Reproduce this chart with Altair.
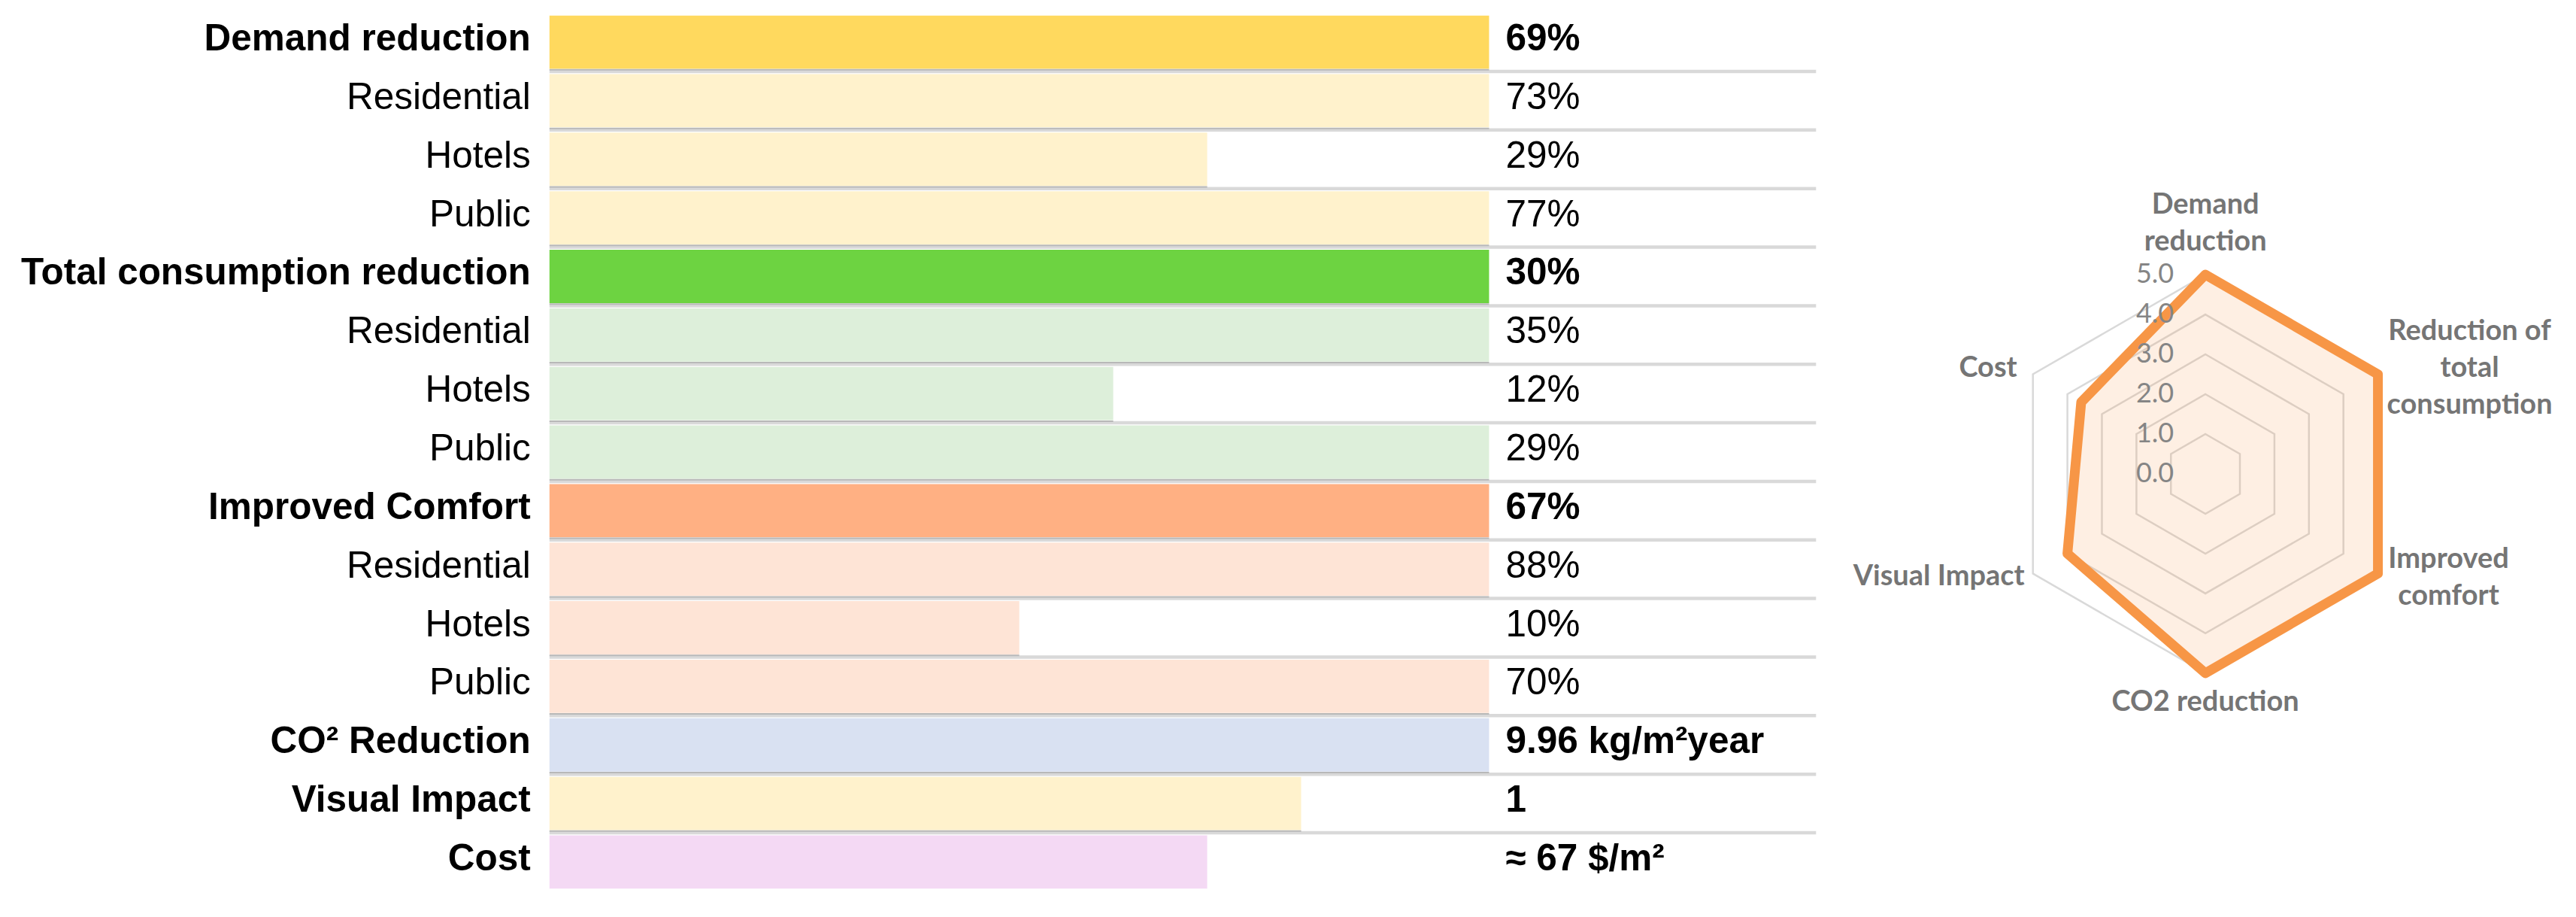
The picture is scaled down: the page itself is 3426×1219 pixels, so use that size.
import altair as alt
import pandas as pd

# ---------------- data ----------------
row_labels = ["Demand reduction", "Residential", "Hotels", "Public",
              "Total consumption reduction", "Residential", "Hotels", "Public",
              "Improved Comfort", "Residential", "Hotels", "Public",
              "CO² Reduction", "Visual Impact", "Cost"]
row_groups = ["demand", "demand_sub", "demand_sub", "demand_sub",
              "consumption", "consumption_sub", "consumption_sub", "consumption_sub",
              "comfort", "comfort_sub", "comfort_sub", "comfort_sub",
              "co2", "visual", "cost"]
row_scores = [5, 5, 3.5, 5, 5, 5, 3, 5, 5, 5, 2.5, 5, 5, 4, 3.5]
row_values = ["69%", "73%", "29%", "77%", "30%", "35%", "12%", "29%",
              "67%", "88%", "10%", "70%", "9.96 kg/m²year", "1", "≈ 67 $/m²"]
row_is_header = [True, False, False, False, True, False, False, False,
                 True, False, False, False, True, True, True]

radar_axes = ["Demand\nreduction", "Reduction of\ntotal\nconsumption", "Improved\ncomfort",
              "CO2 reduction", "Visual Impact", "Cost"]
radar_values = [5.0, 5.0, 5.0, 5.0, 4.0, 3.6]
ring_levels = [1, 2, 3, 4, 5]
tick_levels = [0, 1, 2, 3, 4, 5]

# ---------------- styles / layout ----------------
group_domain = ["demand", "demand_sub", "consumption", "consumption_sub",
                "comfort", "comfort_sub", "co2", "visual", "cost"]
group_range = ["#FFD95E", "#FFF2CC", "#6DD341", "#DDEFDA",
               "#FFB083", "#FEE4D6", "#D9E1F2", "#FFF2CC", "#F4D9F4"]

LABEL_FONT = "Liberation Sans"
FS = 49.5
TEXT_DY = -4
ROW_H = 77.9
N = len(row_labels)
PANEL_H = round(ROW_H * N)
SCORE_MAX = 5
PX_PER_UNIT = 250
PANEL_W = 1685
X_MAX = PANEL_W / PX_PER_UNIT
LABEL_W = 680
GAP = 22
BAR_GAP = 0.045
SHADOW_POS = 0.028
TOP = 17
BAR_LEFT = 728

rows = pd.DataFrame({
    "idx": list(range(N)),
    "label": row_labels,
    "group": row_groups,
    "score": row_scores,
    "value": row_values,
    "header": row_is_header,
})

y_scale = alt.Scale(domain=[N, 0], nice=False, zero=False)

# ---- label column ----
lab_base = alt.Chart(rows).transform_calculate(yc="datum.idx + 0.5")


def label_layer(flt, weight):
    return lab_base.transform_filter(flt).mark_text(
        align="right", baseline="middle", dy=TEXT_DY, font=LABEL_FONT, fontSize=FS,
        fontWeight=weight, color="#000000"
    ).encode(
        x=alt.datum(1),
        y=alt.Y("yc:Q", scale=y_scale, axis=None),
        text="label:N",
    )


label_chart = alt.layer(label_layer("datum.header", "bold"),
                        label_layer("!datum.header", "normal")).encode(
    x=alt.X(scale=alt.Scale(domain=[0, 1], nice=False), axis=None)
).properties(width=LABEL_W, height=PANEL_H)

# ---- bars ----
x_scale = alt.Scale(domain=[0, X_MAX], nice=False, zero=True)
base = alt.Chart(rows).transform_calculate(
    y0=f"datum.idx + {BAR_GAP}", y1=f"datum.idx + 1 - {BAR_GAP}",
    yb="datum.idx + 1", yc="datum.idx + 0.5", x0="0",
    ys=f"datum.idx + 1 - {SHADOW_POS}",
)

bar_layer = base.mark_rect().encode(
    x=alt.X("x0:Q", scale=x_scale, axis=None),
    x2="score:Q",
    y=alt.Y("y0:Q", scale=y_scale, axis=None),
    y2="y1:Q",
    color=alt.Color("group:N", scale=alt.Scale(domain=group_domain, range=group_range), legend=None),
)

rule_layer = base.transform_filter(f"datum.idx < {N - 1}").mark_rule(
    color="#D9D9D9", strokeWidth=4.5
).encode(
    y=alt.Y("yb:Q", scale=y_scale, axis=None),
    x=alt.datum(0),
    x2=alt.datum(X_MAX),
)

shadow_layer = base.transform_filter(f"datum.idx < {N - 1}").mark_rule(
    color="#B8B8B8", strokeWidth=2
).encode(
    y=alt.Y("ys:Q", scale=y_scale, axis=None),
    x="x0:Q",
    x2="score:Q",
)


def value_layer(flt, weight):
    return base.transform_filter(flt).mark_text(
        align="left", baseline="middle", dx=GAP, dy=TEXT_DY, font=LABEL_FONT, fontSize=FS,
        fontWeight=weight, color="#000000"
    ).encode(y=alt.Y("yc:Q", scale=y_scale, axis=None), x=alt.datum(SCORE_MAX), text="value:N")


bar_chart = alt.layer(bar_layer, rule_layer, shadow_layer,
                      value_layer("datum.header", "bold"),
                      value_layer("!datum.header", "normal")).properties(
    width=PANEL_W, height=PANEL_H
)

# ---------------- radar ----------------
NA = len(radar_axes)
R_PX = 53.0
SPACING = GAP
CX_PAGE, CY_PAGE = 2928, 630
PANEL_LEFT = BAR_LEFT + PANEL_W + SPACING
RADAR_W = 3408 - PANEL_LEFT
x_lo = -(CX_PAGE - PANEL_LEFT) / R_PX
x_hi = (PANEL_LEFT + RADAR_W - CX_PAGE) / R_PX
y_hi = (CY_PAGE - TOP) / R_PX
y_lo = -(TOP + PANEL_H - CY_PAGE) / R_PX

rx = alt.Scale(domain=[x_lo, x_hi], nice=False, zero=False)
ry = alt.Scale(domain=[y_lo, y_hi], nice=False, zero=False)

poly_df = pd.DataFrame({"idx": list(range(NA)), "r": radar_values})
ring_df = pd.DataFrame([{"level": lv, "idx": i, "r": lv} for lv in ring_levels for i in range(NA)])
tick_df = pd.DataFrame({"r": tick_levels})
lab_df = pd.DataFrame({"idx": list(range(NA)), "name": radar_axes, "r": [max(ring_levels)] * NA})

calc_x = f"datum.r * sin(datum.idx * 2 * PI / {NA})"
calc_y = f"datum.r * cos(datum.idx * 2 * PI / {NA})"

rings = alt.Chart(ring_df).transform_calculate(cx=calc_x, cy=calc_y).mark_line(
    interpolate="linear-closed", color="#D9D9D9", strokeWidth=2.5
).encode(
    x=alt.X("cx:Q", scale=rx, axis=None),
    y=alt.Y("cy:Q", scale=ry, axis=None),
    detail="level:N", order="idx:Q",
)

poly = alt.Chart(poly_df).transform_calculate(cx=calc_x, cy=calc_y).mark_line(
    interpolate="linear-closed", stroke="#F79646", strokeWidth=13,
    fill="#F79646", fillOpacity=0.15, strokeJoin="round"
).encode(
    x=alt.X("cx:Q", scale=rx, axis=None),
    y=alt.Y("cy:Q", scale=ry, axis=None),
    order="idx:Q",
)

ticks = alt.Chart(tick_df).transform_calculate(cx="0").mark_text(
    align="right", baseline="middle", dx=-42, font="Lato", fontSize=36, color="#858585"
).encode(
    x=alt.X("cx:Q", scale=rx, axis=None),
    y=alt.Y("r:Q", scale=ry, axis=None),
    text=alt.Text("r:Q", format=".1f"),
)

# per-label placement relative to the outer vertex (first line anchored; style only)
label_style = {
    0: dict(align="center", dx=0, dy=-92),
    1: dict(align="center", dx=122, dy=-57),
    2: dict(align="center", dx=94, dy=-18),
    3: dict(align="center", dx=0, dy=39),
    4: dict(align="right", dx=-11, dy=5),
    5: dict(align="right", dx=-21, dy=-8),
}
label_layers = []
for i, st in label_style.items():
    label_layers.append(
        alt.Chart(lab_df).transform_filter(f"datum.idx == {i}").transform_calculate(
            cx=calc_x, cy=calc_y
        ).mark_text(
            baseline="middle", font="Lato", fontSize=38, fontWeight="bold",
            color="#757575", lineBreak="\n", lineHeight=49, **st
        ).encode(
            x=alt.X("cx:Q", scale=rx, axis=None),
            y=alt.Y("cy:Q", scale=ry, axis=None),
            text="name:N",
        )
    )

radar = alt.layer(rings, poly, ticks, *label_layers).properties(
    width=RADAR_W, height=PANEL_H
)

left_pad = BAR_LEFT - 8 - LABEL_W - GAP
chart = alt.hconcat(label_chart, bar_chart, radar, spacing=GAP).properties(
    padding={"left": left_pad, "top": TOP - 8, "right": 5, "bottom": 5},
    background="#FFFFFF",
).configure_view(stroke=None)

chart.save("out.html", embed_options={"renderer": "svg", "actions": False})
